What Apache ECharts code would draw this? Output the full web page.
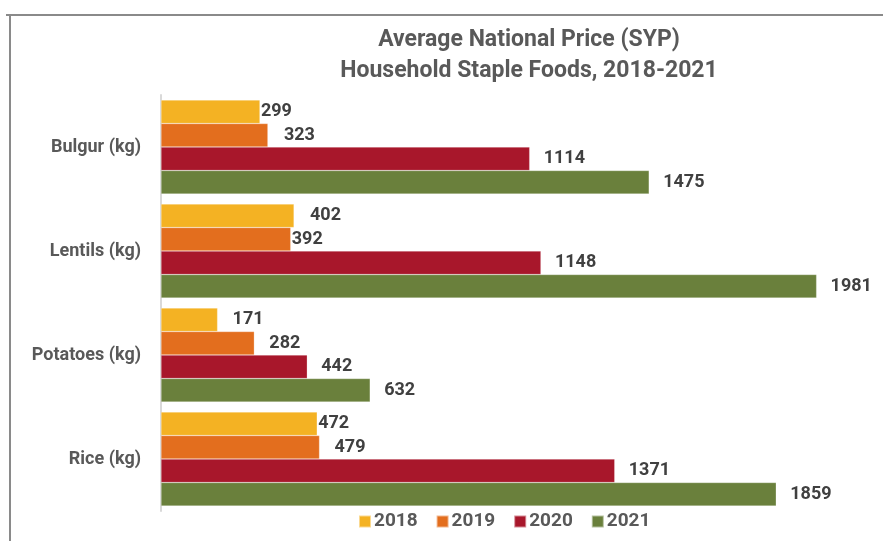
<!DOCTYPE html>
<html>
<head>
<meta charset="utf-8">
<script src="https://cdn.jsdelivr.net/npm/echarts@6/dist/echarts.min.js"></script>
<style>
  html, body { margin: 0; padding: 0; background: #fff; }
  #chart { width: 883px; height: 541px; }
</style>
</head>
<body>
<div id="chart"></div>
<script>
var categories = ['Bulgur (kg)', 'Lentils (kg)', 'Potatoes (kg)', 'Rice (kg)'];
var years = ['2018', '2019', '2020', '2021'];
var prices2018 = [299, 402, 171, 472];
var prices2019 = [323, 392, 282, 479];
var prices2020 = [1114, 1148, 442, 1371];
var prices2021 = [1475, 1981, 632, 1859];

// label gaps as the source places them (some sit right on the bar end)
var labelGaps = [
    [1, 16, 15, 1],
    [16, 1, 15, 15],
    [14, 14, 14, 14],
    [14, 14, 14, 14]
];
var colors = ['#F4B223', '#E36E1E', '#A8172B', '#6A803C'];
var font = '"Liberation Sans Narrow", "Roboto", sans-serif';

var myChart = echarts.init(document.getElementById('chart'));

var values = [prices2018, prices2019, prices2020, prices2021];
var series = years.map(function (y, i) {
    return {
        name: y,
        type: 'bar',
        barWidth: 23.5,
        barGap: '0%',
        itemStyle: { color: colors[i], borderColor: 'rgba(255,255,255,0.5)', borderWidth: 0.5 },
        label: {
            show: true,
            position: 'right',
            color: '#404040',
            fontFamily: font,
            fontWeight: 'bold',
            fontSize: 18
        },
        data: values[i].map(function (v, j) {
            return { value: v, label: { distance: labelGaps[i][j] } };
        })
    };
});

var option = {
    animation: false,
    title: {
        text: 'Average National Price (SYP)\nHousehold Staple Foods, 2018-2021',
        left: 524,
        top: 20,
        textAlign: 'center',
        textStyle: {
            fontFamily: font,
            fontWeight: 'bold',
            fontSize: 23,
            color: '#595959',
            lineHeight: 31
        }
    },
    legend: {
        bottom: 5,
        left: 353,
        itemWidth: 12,
        itemHeight: 12,
        itemGap: 18,
        icon: 'rect',
        textStyle: { fontFamily: font, fontWeight: 'bold', fontSize: 19, color: '#595959', padding: [0, 0, 0, -2] },
        data: years
    },
    grid: { left: 161, top: 95, width: 695, height: 416 },
    xAxis: {
        type: 'value',
        min: 0,
        max: 2100,
        show: false
    },
    yAxis: {
        type: 'category',
        inverse: true,
        data: categories,
        axisLine: { show: true, lineStyle: { color: '#d9d9d9', width: 2 } },
        axisTick: { show: false },
        axisLabel: {
            margin: 20,
            fontFamily: font,
            fontWeight: 'bold',
            fontSize: 18,
            color: '#595959'
        }
    },
    graphic: [
        { type: 'line', shape: { x1: 6, y1: 15, x2: 883, y2: 15 }, style: { stroke: '#8a8a8a', lineWidth: 2 } },
        { type: 'line', shape: { x1: 10, y1: 15, x2: 10, y2: 541 }, style: { stroke: '#8a8a8a', lineWidth: 2 } }
    ],
    series: series
};

myChart.setOption(option);
</script>
</body>
</html>
